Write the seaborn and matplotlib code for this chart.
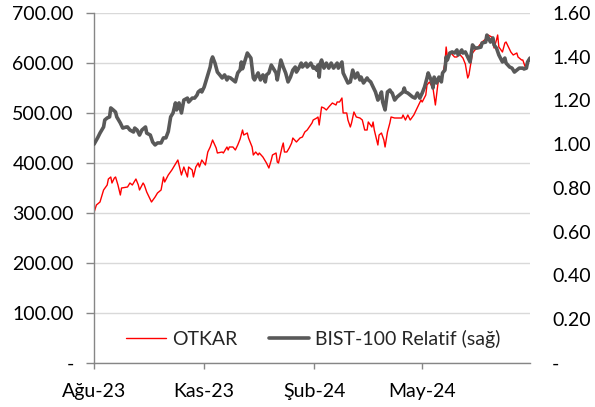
import pandas as pd
import matplotlib
matplotlib.use('Agg')
import matplotlib.pyplot as plt
from matplotlib.ticker import FuncFormatter, MultipleLocator
import seaborn as sns

# ----- data -----
otkar_dates = [
    '2023-08-01', '2023-08-03', '2023-08-06', '2023-08-09', '2023-08-12', '2023-08-13', '2023-08-15',
    '2023-08-16', '2023-08-18', '2023-08-19', '2023-08-21', '2023-08-23', '2023-08-24', '2023-08-29',
    '2023-08-31', '2023-09-02', '2023-09-05', '2023-09-07', '2023-09-08', '2023-09-11', '2023-09-12',
    '2023-09-14', '2023-09-18', '2023-09-21', '2023-09-23', '2023-09-26', '2023-09-28', '2023-09-29',
    '2023-10-02', '2023-10-05', '2023-10-09', '2023-10-10', '2023-10-13', '2023-10-15', '2023-10-18',
    '2023-10-19', '2023-10-22', '2023-10-23', '2023-10-25', '2023-10-27', '2023-10-28', '2023-10-30',
    '2023-11-02', '2023-11-04', '2023-11-06', '2023-11-08', '2023-11-11', '2023-11-12', '2023-11-16',
    '2023-11-17', '2023-11-20', '2023-11-21', '2023-11-22', '2023-11-25', '2023-11-27', '2023-11-29',
    '2023-12-01', '2023-12-03', '2023-12-04', '2023-12-07', '2023-12-08', '2023-12-11', '2023-12-12',
    '2023-12-14', '2023-12-16', '2023-12-17', '2023-12-20', '2023-12-23', '2023-12-25', '2023-12-27',
    '2023-12-28', '2023-12-31', '2024-01-01', '2024-01-02', '2024-01-05', '2024-01-06', '2024-01-07',
    '2024-01-09', '2024-01-11', '2024-01-13', '2024-01-14', '2024-01-17', '2024-01-20', '2024-01-22',
    '2024-01-24', '2024-01-26', '2024-01-30', '2024-01-31', '2024-02-03', '2024-02-04', '2024-02-05',
    '2024-02-07', '2024-02-09', '2024-02-11', '2024-02-13', '2024-02-16', '2024-02-19', '2024-02-20',
    '2024-02-22', '2024-02-24', '2024-02-25', '2024-02-28', '2024-02-29', '2024-03-02', '2024-03-03',
    '2024-03-05', '2024-03-07', '2024-03-10', '2024-03-12', '2024-03-14', '2024-03-16', '2024-03-17',
    '2024-03-20', '2024-03-21', '2024-03-22', '2024-03-25', '2024-03-26', '2024-03-28', '2024-03-30',
    '2024-03-31', '2024-04-02', '2024-04-04', '2024-04-05', '2024-04-08', '2024-04-10', '2024-04-14',
    '2024-04-15', '2024-04-17', '2024-04-19', '2024-04-21', '2024-04-24', '2024-04-26', '2024-04-28',
    '2024-04-30', '2024-05-01', '2024-05-04', '2024-05-05', '2024-05-07', '2024-05-10', '2024-05-12',
    '2024-05-14', '2024-05-15', '2024-05-17', '2024-05-18', '2024-05-20', '2024-05-21', '2024-05-22',
    '2024-05-25', '2024-05-28', '2024-05-30', '2024-06-01', '2024-06-04', '2024-06-06', '2024-06-08',
    '2024-06-09', '2024-06-12', '2024-06-14', '2024-06-16', '2024-06-18', '2024-06-20', '2024-06-24',
    '2024-06-25', '2024-06-28', '2024-06-29', '2024-06-30', '2024-07-02', '2024-07-03', '2024-07-04',
    '2024-07-07', '2024-07-09', '2024-07-10', '2024-07-12', '2024-07-14', '2024-07-16', '2024-07-19',
    '2024-07-20', '2024-07-23', '2024-07-24', '2024-07-26', '2024-07-28', '2024-07-30',
]
otkar_values = [
    301, 316, 322, 346, 356, 368, 372, 360, 370, 372, 356, 336, 350, 352,
    360, 356, 368, 356, 346, 360, 356, 342, 322, 332, 340, 346, 372, 362,
    376, 386, 402, 406, 376, 392, 372, 392, 386, 372, 392, 400, 392, 406,
    396, 422, 432, 446, 430, 420, 422, 420, 432, 426, 432, 432, 426, 436,
    448, 466, 456, 460, 450, 432, 416, 422, 416, 420, 412, 400, 390, 406,
    416, 420, 402, 400, 432, 440, 422, 422, 430, 440, 450, 442, 450, 452,
    462, 466, 480, 486, 490, 492, 476, 512, 510, 506, 512, 520, 516, 522,
    522, 530, 500, 500, 486, 472, 480, 502, 492, 490, 486, 466, 466, 482,
    472, 482, 466, 436, 456, 460, 446, 432, 462, 480, 492, 490, 490, 490,
    496, 486, 496, 486, 496, 506, 516, 526, 522, 536, 556, 562, 550, 516,
    556, 572, 562, 576, 600, 632, 612, 620, 612, 612, 618, 610, 598, 570,
    576, 620, 626, 630, 636, 642, 650, 656, 652, 642, 630, 646, 656, 632,
    622, 640, 642, 632, 622, 616, 620, 612, 606, 606, 592, 604, 610,
]

bist_dates = [
    '2023-08-01', '2023-08-04', '2023-08-06', '2023-08-09', '2023-08-10', '2023-08-12', '2023-08-14',
    '2023-08-15', '2023-08-17', '2023-08-19', '2023-08-20', '2023-08-23', '2023-08-25', '2023-08-28',
    '2023-08-29', '2023-08-31', '2023-09-03', '2023-09-04', '2023-09-06', '2023-09-08', '2023-09-10',
    '2023-09-13', '2023-09-14', '2023-09-17', '2023-09-19', '2023-09-21', '2023-09-23', '2023-09-26',
    '2023-09-28', '2023-09-30', '2023-10-02', '2023-10-04', '2023-10-06', '2023-10-08', '2023-10-09',
    '2023-10-11', '2023-10-13', '2023-10-15', '2023-10-18', '2023-10-19', '2023-10-22', '2023-10-24',
    '2023-10-26', '2023-10-27', '2023-10-29', '2023-10-30', '2023-11-01', '2023-11-02', '2023-11-04',
    '2023-11-06', '2023-11-07', '2023-11-08', '2023-11-10', '2023-11-12', '2023-11-14', '2023-11-16',
    '2023-11-18', '2023-11-20', '2023-11-21', '2023-11-23', '2023-11-25', '2023-11-27', '2023-11-29',
    '2023-12-01', '2023-12-02', '2023-12-03', '2023-12-06', '2023-12-07', '2023-12-10', '2023-12-12',
    '2023-12-13', '2023-12-16', '2023-12-18', '2023-12-20', '2023-12-22', '2023-12-23', '2023-12-25',
    '2023-12-27', '2023-12-28', '2023-12-31', '2024-01-01', '2024-01-04', '2024-01-06', '2024-01-08',
    '2024-01-10', '2024-01-12', '2024-01-14', '2024-01-16', '2024-01-17', '2024-01-19', '2024-01-21',
    '2024-01-22', '2024-01-25', '2024-01-26', '2024-01-29', '2024-01-31', '2024-02-01', '2024-02-03',
    '2024-02-04', '2024-02-05', '2024-02-06', '2024-02-07', '2024-02-09', '2024-02-11', '2024-02-13',
    '2024-02-15', '2024-02-17', '2024-02-20', '2024-02-21', '2024-02-24', '2024-02-25', '2024-02-27',
    '2024-02-29', '2024-03-02', '2024-03-04', '2024-03-06', '2024-03-08', '2024-03-10', '2024-03-11',
    '2024-03-13', '2024-03-16', '2024-03-17', '2024-03-19', '2024-03-21', '2024-03-23', '2024-03-25',
    '2024-03-26', '2024-03-28', '2024-03-29', '2024-03-31', '2024-04-02', '2024-04-04', '2024-04-05',
    '2024-04-06', '2024-04-08', '2024-04-10', '2024-04-12', '2024-04-15', '2024-04-16', '2024-04-17',
    '2024-04-19', '2024-04-21', '2024-04-23', '2024-04-25', '2024-04-27', '2024-04-29', '2024-05-01',
    '2024-05-03', '2024-05-05', '2024-05-06', '2024-05-09', '2024-05-10', '2024-05-11', '2024-05-13',
    '2024-05-15', '2024-05-17', '2024-05-18', '2024-05-20', '2024-05-21', '2024-05-22', '2024-05-24',
    '2024-05-26', '2024-05-28', '2024-05-30', '2024-05-31', '2024-06-03', '2024-06-04', '2024-06-06',
    '2024-06-08', '2024-06-10', '2024-06-12', '2024-06-14', '2024-06-16', '2024-06-19', '2024-06-20',
    '2024-06-23', '2024-06-24', '2024-06-27', '2024-06-29', '2024-06-30', '2024-07-02', '2024-07-04',
    '2024-07-07', '2024-07-09', '2024-07-10', '2024-07-13', '2024-07-15', '2024-07-17', '2024-07-19',
    '2024-07-21', '2024-07-24', '2024-07-25', '2024-07-27', '2024-07-28', '2024-07-30',
]
bist_values = [
    1.000, 1.029, 1.051, 1.079, 1.111, 1.120, 1.125, 1.166, 1.157, 1.147, 1.125, 1.097, 1.074, 1.079,
    1.079, 1.065, 1.056, 1.074, 1.065, 1.042, 1.065, 1.079, 1.051, 1.042, 1.010, 0.997, 1.006, 1.006,
    1.029, 1.029, 1.058, 1.125, 1.143, 1.189, 1.157, 1.189, 1.143, 1.202, 1.211, 1.193, 1.211, 1.211,
    1.225, 1.239, 1.248, 1.239, 1.262, 1.280, 1.317, 1.353, 1.385, 1.399, 1.371, 1.330, 1.317, 1.303,
    1.317, 1.294, 1.307, 1.303, 1.294, 1.285, 1.326, 1.340, 1.376, 1.345, 1.399, 1.417, 1.394, 1.303,
    1.294, 1.326, 1.294, 1.317, 1.285, 1.317, 1.326, 1.362, 1.353, 1.326, 1.294, 1.385, 1.353, 1.326,
    1.285, 1.307, 1.339, 1.353, 1.330, 1.348, 1.371, 1.353, 1.371, 1.353, 1.371, 1.348, 1.353, 1.339,
    1.362, 1.307, 1.371, 1.385, 1.348, 1.371, 1.348, 1.371, 1.348, 1.371, 1.348, 1.376, 1.326, 1.303,
    1.280, 1.285, 1.339, 1.303, 1.326, 1.294, 1.307, 1.280, 1.303, 1.294, 1.285, 1.262, 1.239, 1.202,
    1.211, 1.239, 1.193, 1.157, 1.239, 1.248, 1.239, 1.234, 1.202, 1.216, 1.225, 1.239, 1.257, 1.239,
    1.234, 1.225, 1.216, 1.211, 1.234, 1.211, 1.234, 1.262, 1.303, 1.326, 1.285, 1.257, 1.307, 1.280,
    1.307, 1.285, 1.326, 1.339, 1.399, 1.385, 1.417, 1.422, 1.417, 1.431, 1.408, 1.431, 1.417, 1.422,
    1.399, 1.376, 1.454, 1.440, 1.440, 1.444, 1.463, 1.467, 1.499, 1.467, 1.486, 1.454, 1.440, 1.408,
    1.376, 1.394, 1.371, 1.353, 1.348, 1.330, 1.339, 1.348, 1.348, 1.344, 1.348, 1.376, 1.394,
]

tick_dates = ['2023-08-01', '2023-11-01', '2024-02-01', '2024-05-01']
tick_labels = ['Ağu-23', 'Kas-23', 'Şub-24', 'May-24']
x_start, x_end = '2023-08-01', '2024-07-30'

otkar = pd.DataFrame({'date': pd.to_datetime(otkar_dates), 'value': otkar_values})
bist = pd.DataFrame({'date': pd.to_datetime(bist_dates), 'value': bist_values})

# ----- styling -----
sns.set_style('white')
plt.rcParams['font.family'] = ['Lato', 'DejaVu Sans']
FS = 14
TXT = '#000000'
AXC = '#868686'

fig = plt.figure(figsize=(5.95, 4.07), dpi=100)
ax = fig.add_axes([94 / 595, 44 / 407, 436 / 595, 350 / 407])
ax2 = ax.twinx()

sns.lineplot(data=otkar, x='date', y='value', ax=ax, color='#FF0000', linewidth=1.0,
             label='OTKAR', legend=False)
sns.lineplot(data=bist, x='date', y='value', ax=ax2, color='#595959', linewidth=2.6,
             label='BIST-100 Relatif (sağ)', legend=False)

ax.set_xlim(pd.Timestamp(x_start), pd.Timestamp(x_end))
ax.set_ylim(0, 700)
ax2.set_ylim(0, 1.6)

zero_dash = FuncFormatter(lambda v, p: '-' if abs(v) < 1e-9 else f'{v:.2f}')
ax.yaxis.set_major_locator(MultipleLocator(100))
ax2.yaxis.set_major_locator(MultipleLocator(0.2))
ax.yaxis.set_major_formatter(zero_dash)
ax2.yaxis.set_major_formatter(zero_dash)

ax.set_xticks(pd.to_datetime(tick_dates))
ax.set_xticklabels(tick_labels)

ax.grid(axis='y', color='#D9D9D9', linewidth=1.0)
ax.set_axisbelow(True)
ax.set_xlabel('')
ax.set_ylabel('')
ax2.set_ylabel('')

for a in (ax, ax2):
    for s in ['top', 'right', 'left', 'bottom']:
        a.spines[s].set_visible(False)
for s in ['left', 'bottom']:
    ax.spines[s].set_visible(True)
    ax.spines[s].set_color(AXC)
    ax.spines[s].set_linewidth(1.0)

ax.tick_params(axis='y', direction='out', length=5.5, width=1.0, color=AXC, pad=9,
               labelsize=FS, labelcolor=TXT, left=True)
ax.tick_params(axis='x', direction='out', length=4.5, width=1.0, color=AXC, pad=10,
               labelsize=FS, labelcolor=TXT, bottom=True)
ax2.tick_params(axis='y', length=0, pad=16, labelsize=FS, labelcolor=TXT)

h1, l1 = ax.get_legend_handles_labels()
h2, l2 = ax2.get_legend_handles_labels()
ax2.legend(h1 + h2, l1 + l2, loc='center', bbox_to_anchor=(0.503, 0.069), ncol=2,
           frameon=False, fontsize=FS, handlelength=2.05, handletextpad=0.35,
           columnspacing=1.6, borderaxespad=0)

fig.savefig('out.png', dpi=100)
